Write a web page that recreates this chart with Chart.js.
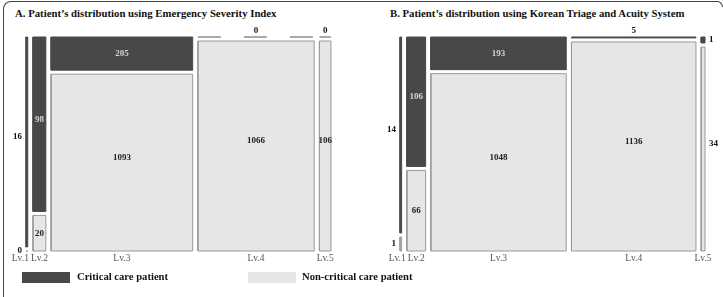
<!DOCTYPE html>
<html><head><meta charset="utf-8">
<script src="https://cdn.jsdelivr.net/npm/chart.js@4"></script>
<style>
html,body{margin:0;padding:0;width:723px;height:297px;overflow:hidden;background:#fff;font-family:"Liberation Serif","Times New Roman",serif;}
.fl{position:absolute;background:#444;z-index:5;}
.title{position:absolute;top:7px;font-weight:bold;font-size:10.75px;line-height:13px;color:#111;white-space:nowrap;}
canvas{position:absolute;top:0;}
.sw{position:absolute;top:272px;width:48px;height:11px;}
.lt{position:absolute;top:270px;font-weight:bold;font-size:10.6px;line-height:14px;color:#111;white-space:nowrap;}
</style></head>
<body>
<div class="title" style="left:15px">A. Patient’s distribution using Emergency Severity Index</div>
<div class="title" style="left:390px">B. Patient’s distribution using Korean Triage and Acuity System</div>
<canvas id="ca" width="361" height="297" style="left:0;width:361px;height:297px"></canvas>
<canvas id="cb" width="362" height="297" style="left:361px;width:362px;height:297px"></canvas>
<div class="sw" style="left:22px;background:#484848"></div>
<div class="lt" id="lg1" style="left:77px"></div>
<div class="sw" style="left:248px;background:#e6e6e6"></div>
<div class="lt" id="lg2" style="left:302px"></div>
<div class="fl" style="left:3px;top:9px;width:1px;height:290px"></div>
<div class="fl" style="left:10px;top:1px;width:709px;height:1px"></div>
<div style="position:absolute;left:3px;top:1px;width:14px;height:14px;border-left:1px solid #444;border-top:1px solid #444;border-top-left-radius:8px;box-sizing:border-box;z-index:5"></div>
<div style="position:absolute;left:709px;top:1px;width:14px;height:6px;border-right:1px solid #444;border-top:1px solid #444;border-top-right-radius:8px;box-sizing:border-box;z-index:5"></div>
<script>
// ---- data ----
const levels = ['Lv.1', 'Lv.2', 'Lv.3', 'Lv.4', 'Lv.5'];
const groupLabels = ['Critical care patient', 'Non-critical care patient'];
const esiCritical = [16, 98, 205, 0, 0];
const esiNonCritical = [0, 20, 1093, 1066, 106];
const ktasCritical = [14, 106, 193, 5, 1];
const ktasNonCritical = [1, 66, 1048, 1136, 34];

document.getElementById('lg1').textContent = groupLabels[0];
document.getElementById('lg2').textContent = groupLabels[1];

const DARK = '#484848', LIGHT = '#e6e6e6', LIGHT_EDGE = '#9a9a9a';

function buildMosaic(crit, non) {
  const totals = crit.map((c, i) => c + non[i]);
  const N = totals.reduce((a, b) => a + b, 0);
  const gapX = N * 0.0184, gapY = 0.0187;
  let x = 0; const cells = [], cols = [];
  totals.forEach((t, i) => {
    const f = t ? crit[i] / t : 0;
    const h = 1 - gapY;
    cells.push({kind: 'dark', x0: x, x1: x + t, y0: 1 - f * h, y1: 1, value: crit[i], col: i});
    cells.push({kind: 'light', x0: x, x1: x + t, y0: 0, y1: (1 - f) * h, value: non[i], col: i});
    cols.push({center: x + t / 2, label: levels[i]});
    x += t + gapX;
  });
  return {cells, cols, xmax: x - gapX};
}

function datasetsFor(m) {
  return m.cells.map(c => {
    const base = {showLine: true, pointRadius: 0, tension: 0, clip: false, borderJoinStyle: 'miter'};
    if (c.value === 0) {
      const y = c.kind === 'dark' ? c.y1 : c.y0;
      return Object.assign(base, {
        data: [{x: c.x0, y: y}, {x: c.x1, y: y}],
        borderColor: '#555', borderWidth: 1, borderDash: [23, 23], fill: false
      });
    }
    return Object.assign(base, {
      data: [{x: c.x0, y: c.y0}, {x: c.x1, y: c.y0}, {x: c.x1, y: c.y1}, {x: c.x0, y: c.y1}, {x: c.x0, y: c.y0}],
      borderColor: c.kind === 'dark' ? DARK : LIGHT_EDGE,
      backgroundColor: c.kind === 'dark' ? DARK : LIGHT,
      borderWidth: 1, fill: 'shape'
    });
  });
}

function labelPluginFor(m) {
  return {
    id: 'mosaicLabels',
    afterDatasetsDraw(chart) {
      const xs = chart.scales.x, ys = chart.scales.y, ctx = chart.ctx;
      ctx.save();
      ctx.textBaseline = 'middle';
      m.cells.forEach(c => {
        const px0 = xs.getPixelForValue(c.x0), px1 = xs.getPixelForValue(c.x1);
        const pyT = ys.getPixelForValue(c.y1), pyB = ys.getPixelForValue(c.y0);
        const w = px1 - px0, h = pyB - pyT;
        const lift = h > 100 ? 5 : 0;
        let tx, ty, align = 'center', color = '#111';
        if (c.value === 0 || h < 8) {
          if (c.kind === 'dark') {
            if (w >= 8) { tx = (px0 + px1) / 2; ty = pyT - 6; }
            else { tx = px1 + 4; ty = (pyT + pyB) / 2; align = 'left'; }
          } else { tx = px0 - 4; ty = pyB; align = 'right'; }
        } else if (w < 8) {
          if (c.col === 0) { tx = px0 - 4; align = 'right'; } else { tx = px1 + 4; align = 'left'; }
          ty = (pyT + pyB) / 2 - lift;
        } else {
          tx = (px0 + px1) / 2; ty = (pyT + pyB) / 2 - lift;
          color = c.kind === 'dark' ? '#d4d4d4' : '#222';
        }
        ctx.font = 'bold 9px "Liberation Serif", serif';
        ctx.fillStyle = color; ctx.textAlign = align;
        ctx.fillText(String(c.value), tx, ty);
      });
      ctx.font = '9.5px "Liberation Serif", serif';
      ctx.fillStyle = '#555'; ctx.textAlign = 'center';
      const pos = m.cols.map(c => xs.getPixelForValue(c.center));
      const widths = m.cols.map(c => ctx.measureText(c.label).width);
      for (let i = pos.length - 2; i >= 0; i--) {
        const overlap = (pos[i] + widths[i] / 2 + 2) - (pos[i + 1] - widths[i + 1] / 2);
        if (overlap > 0) pos[i] -= overlap;
      }
      m.cols.forEach((c, i) => ctx.fillText(c.label, pos[i], ys.bottom + 7));
      ctx.restore();
    }
  };
}

function makeChart(id, crit, non, pad) {
  const m = buildMosaic(crit, non);
  return new Chart(document.getElementById(id), {
    type: 'scatter',
    data: {datasets: datasetsFor(m)},
    options: {
      responsive: false, animation: false, devicePixelRatio: 1,
      layout: {padding: pad},
      plugins: {legend: {display: false}, tooltip: {enabled: false}, title: {display: false}},
      scales: {
        x: {type: 'linear', min: 0, max: m.xmax, display: false},
        y: {type: 'linear', min: 0, max: 1, display: false}
      }
    },
    plugins: [labelPluginFor(m)]
  });
}

makeChart('ca', esiCritical, esiNonCritical, {left: 26, top: 37, right: 30, bottom: 46});
makeChart('cb', ktasCritical, ktasNonCritical, {left: 39, top: 37, right: 18, bottom: 46});
</script>
</body></html>
